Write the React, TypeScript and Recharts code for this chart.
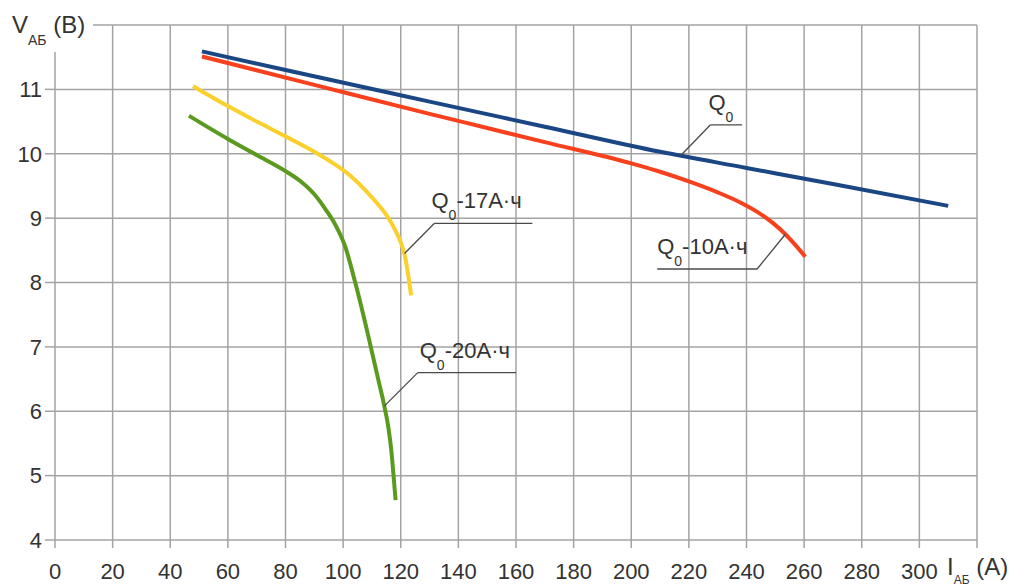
import React from 'react';
import { LineChart, Line, XAxis, YAxis, CartesianGrid, ReferenceLine } from 'recharts';

// Axis ticks: current I (A) and voltage V (B)
const currentTicks = [0, 20, 40, 60, 80, 100, 120, 140, 160, 180, 200, 220, 240, 260, 280, 300, 320];
const voltageTicks = [4, 5, 6, 7, 8, 9, 10, 11, 12];

// Q0 — full capacity
const q0Current = [51, 80, 130, 170, 210, 240, 270, 310];
const q0Voltage = [11.59, 11.3, 10.81, 10.42, 10.03, 9.78, 9.53, 9.19];

// Q0 - 10 А·ч
const q10Current = [51, 90, 130, 150, 170, 200, 210, 220, 230, 238, 244, 249, 253.5, 257, 260.4];
const q10Voltage = [11.51, 11.07, 10.62, 10.4, 10.18, 9.85, 9.72, 9.57, 9.4, 9.24, 9.09, 8.93, 8.75, 8.58, 8.4];

// Q0 - 17 А·ч
const q17Current = [47.9, 60, 70, 80, 90, 97, 103, 108, 112, 115, 118, 120.2, 121.5, 122.8, 123.6];
const q17Voltage = [11.05, 10.74, 10.5, 10.27, 10.03, 9.84, 9.64, 9.42, 9.22, 9.05, 8.82, 8.6, 8.4, 8.05, 7.8];

// Q0 - 20 А·ч
const q20Current = [46.5, 60, 70, 80, 85, 90, 94, 97.5, 100.7, 104.2, 107, 109.6, 112, 114.3, 115.7, 116.7, 117.5, 118.2];
const q20Voltage = [10.59, 10.23, 9.98, 9.73, 9.58, 9.37, 9.13, 8.88, 8.56, 8.0, 7.5, 7.0, 6.53, 6.08, 5.75, 5.4, 5.0, 4.62];

// Leader lines for the curve captions: [point on curve, knee, end of shelf]
const q0Leader = [[217.1, 9.97], [227.5, 10.45], [238.5, 10.45]];
const q10Leader = [[253.5, 8.75], [243.7, 8.21], [209, 8.21]];
const q17Leader = [[121.3, 8.45], [131.7, 8.92], [165.7, 8.92]];
const q20Leader = [[114.3, 6.08], [125.9, 6.6], [160, 6.6]];

const toPoints = (xs: number[], ys: number[]) => xs.map((i, k) => ({ i, v: ys[k] }));

const q0Data = toPoints(q0Current, q0Voltage);
const q10Data = toPoints(q10Current, q10Voltage);
const q17Data = toPoints(q17Current, q17Voltage);
const q20Data = toPoints(q20Current, q20Voltage);

const FONT = '"Liberation Sans", Arial, sans-serif';
const TEXT = '#333333';
const GRID = '#a3a3a3';
const LEADER = '#4a4a4a';

const XTick = (props: any) => {
  const { x, y, payload } = props;
  if (payload.value === 320) {
    return (
      <text x={x - 30} y={y + 12} fill={TEXT} fontFamily={FONT} fontSize={24}>
        I
        <tspan dy={9} fontSize={12}>АБ</tspan>
        <tspan dy={-9}> (A)</tspan>
      </text>
    );
  }
  return (
    <text x={x} y={y} dy="0.71em" textAnchor="middle" fill={TEXT} fontFamily={FONT} fontSize={22}>
      {payload.value}
    </text>
  );
};

const YTick = (props: any) => {
  const { x, y, payload } = props;
  if (payload.value === 12) {
    return (
      <g>
        <rect x={0} y={0} width={93} height={y + 27} fill="#ffffff" />
        <text x={12} y={y + 8} fill={TEXT} fontFamily={FONT} fontSize={24}>
          V
          <tspan dy={12} fontSize={14}>АБ</tspan>
          <tspan dy={-12}> (B)</tspan>
        </text>
      </g>
    );
  }
  return (
    <text x={x} y={y} dy="0.355em" textAnchor="end" fill={TEXT} fontFamily={FONT} fontSize={22}>
      {payload.value}
    </text>
  );
};

const Caption = (props: any) => {
  const { viewBox, text, dx = 0 } = props;
  if (!viewBox) return null;
  const x = viewBox.x + dx;
  const y = viewBox.y;
  return (
    <text x={x} y={y - 15} fill={TEXT} fontFamily={FONT} fontSize={22}>
      Q
      <tspan dy={12} fontSize={14}>0</tspan>
      <tspan dy={-12}>{text}</tspan>
    </text>
  );
};

const leaderLines = (pts: number[][], text: string, dx: number, key: string) => [
  <ReferenceLine
    key={key + '-a'}
    segment={[{ x: pts[0][0], y: pts[0][1] }, { x: pts[1][0], y: pts[1][1] }]}
    stroke={LEADER}
    strokeWidth={1.3}
  />,
  <ReferenceLine
    key={key + '-b'}
    segment={[{ x: pts[1][0], y: pts[1][1] }, { x: pts[2][0], y: pts[2][1] }]}
    stroke={LEADER}
    strokeWidth={1.3}
    label={<Caption text={text} dx={dx} />}
  />,
];

export default function App() {
  return (
    <div style={{ position: 'absolute', left: 0, top: 0, width: 1032, height: 588, background: '#ffffff' }}>
      <LineChart width={1032} height={588} margin={{ top: 25, right: 55, bottom: 0, left: 0 }}>
        <CartesianGrid stroke={GRID} strokeWidth={1.5} />
        <Line data={q0Data} dataKey="v" type="monotone" stroke="#1a4684" strokeWidth={4} dot={false} isAnimationActive={false} />
        <Line data={q10Data} dataKey="v" type="monotone" stroke="#f7401d" strokeWidth={4} dot={false} isAnimationActive={false} />
        <Line data={q17Data} dataKey="v" type="monotone" stroke="#fcd02c" strokeWidth={4} dot={false} isAnimationActive={false} />
        <Line data={q20Data} dataKey="v" type="monotone" stroke="#5a9a1f" strokeWidth={4} dot={false} isAnimationActive={false} />
        {leaderLines(q0Leader, '', -2, 'q0')}
        {leaderLines(q10Leader, '-10A·ч', 0, 'q10')}
        {leaderLines(q17Leader, '-17A·ч', -3, 'q17')}
        {leaderLines(q20Leader, '-20A·ч', 2, 'q20')}
        <XAxis
          dataKey="i"
          type="number"
          domain={[0, 320]}
          ticks={currentTicks}
          interval={0}
          height={48}
          axisLine={false}
          tickSize={8}
          tickMargin={15}
          tickLine={{ stroke: GRID, strokeWidth: 1.5 }}
          tick={<XTick />}
        />
        <YAxis
          type="number"
          domain={[4, 12]}
          ticks={voltageTicks}
          interval={0}
          width={55}
          axisLine={false}
          tickSize={10}
          tickMargin={3}
          tickLine={{ stroke: GRID, strokeWidth: 1.5 }}
          tick={<YTick />}
        />
      </LineChart>
    </div>
  );
}
